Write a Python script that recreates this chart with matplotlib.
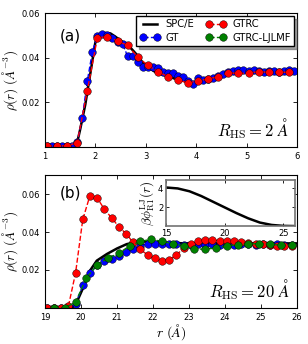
import matplotlib
matplotlib.use('Agg')
import matplotlib.pyplot as plt
import numpy as np

plt.rcParams['mathtext.fontset'] = 'cm'
plt.rcParams['font.family'] = 'DejaVu Sans'

# ---- panel (a): R_HS = 2 A ----
spce_a_x = [1.0, 1.6, 1.65, 1.7, 1.8, 1.9, 2.0, 2.1, 2.2, 2.3, 2.4, 2.5, 2.6, 2.7, 2.8, 2.9,
            3.0, 3.2, 3.4, 3.6, 3.8, 3.9, 4.0, 4.2, 4.4, 4.6, 4.8, 5.0, 5.5, 6.0]
spce_a_y = [0.0, 0.0, 0.003, 0.008, 0.019, 0.033, 0.047, 0.050, 0.0512, 0.051, 0.0495, 0.0478,
            0.0462, 0.0445, 0.042, 0.039, 0.0365, 0.0335, 0.032, 0.0305, 0.0295, 0.029, 0.0292,
            0.0302, 0.0315, 0.0328, 0.0337, 0.034, 0.034, 0.034]

gt_a_x = [1.04, 1.14, 1.24, 1.34, 1.44, 1.54, 1.64, 1.74, 1.84, 1.94, 2.04, 2.14, 2.24, 2.34,
          2.44, 2.54, 2.64, 2.74, 2.84, 2.94, 3.04, 3.14, 3.24, 3.34, 3.44, 3.54, 3.64, 3.74,
          3.84, 3.94, 4.04, 4.14, 4.24, 4.34, 4.44, 4.54, 4.64, 4.74, 4.84, 4.94, 5.04, 5.14,
          5.24, 5.34, 5.44, 5.54, 5.64, 5.74, 5.84, 5.94]
gt_a_y = [0.0005, 0.0005, 0.0005, 0.0005, 0.0005, 0.0005, 0.002, 0.013, 0.0296, 0.0427, 0.050,
          0.0508, 0.0504, 0.049, 0.047, 0.0464, 0.0407, 0.041, 0.038, 0.036, 0.036, 0.036,
          0.0356, 0.0338, 0.0333, 0.0333, 0.0318, 0.0313, 0.0298, 0.0283, 0.0308, 0.030,
          0.0305, 0.031, 0.0318, 0.0327, 0.0338, 0.034, 0.0345, 0.0345, 0.034, 0.0345, 0.034,
          0.0338, 0.0342, 0.034, 0.0338, 0.0342, 0.0345, 0.034]

gtrc_a_x = [1.04, 1.24, 1.44, 1.64, 1.84, 2.04, 2.24, 2.44, 2.64, 2.84, 3.04, 3.24, 3.44, 3.64,
            3.84, 4.04, 4.24, 4.44, 4.64, 4.84, 5.04, 5.24, 5.44, 5.64, 5.84]
gtrc_a_y = [0.0005, 0.0005, 0.0005, 0.0019, 0.0253, 0.049, 0.0496, 0.0476, 0.0456, 0.0404,
            0.0367, 0.0338, 0.0316, 0.0301, 0.0286, 0.0298, 0.0305, 0.0316, 0.0333, 0.033,
            0.0332, 0.0338, 0.0335, 0.0336, 0.0335]

# ---- panel (b): R_HS = 20 A ----
spce_b_x = [19.0, 19.75, 19.85, 19.93, 20.07, 20.25, 20.44, 20.72, 21.0, 21.27, 21.55, 21.8,
            22.0, 22.5, 23.0, 24.0, 25.0, 26.0]
spce_b_y = [0.0, 0.0, 0.002, 0.005, 0.011, 0.0196, 0.0249, 0.0284, 0.0313, 0.0336, 0.0348,
            0.035, 0.0348, 0.0342, 0.034, 0.034, 0.034, 0.034]

gt_b_x = [19.05, 19.25, 19.45, 19.65, 19.85, 20.05, 20.25, 20.45, 20.65, 20.85, 21.05, 21.25,
          21.45, 21.65, 21.85, 22.05, 22.25, 22.45, 22.65, 22.85, 23.05, 23.25, 23.45, 23.65,
          23.85, 24.05, 24.25, 24.45, 24.65, 24.85, 25.05, 25.25, 25.45, 25.65, 25.85]
gt_b_y = [0.0, 0.0, 0.0, 0.0, 0.002, 0.0118, 0.0182, 0.0225, 0.0245, 0.0258, 0.0275, 0.0293,
          0.031, 0.0328, 0.0338, 0.0338, 0.0337, 0.0335, 0.0335, 0.0334, 0.0333, 0.0335,
          0.0334, 0.0335, 0.0334, 0.0335, 0.0334, 0.0335, 0.0335, 0.0334, 0.0335, 0.0334,
          0.0335, 0.0334, 0.0334]

gtrc_b_x = gt_b_x
gtrc_b_y = [0.0, 0.0, 0.0, 0.0008, 0.0184, 0.0466, 0.0592, 0.058, 0.052, 0.0475, 0.0428,
            0.0392, 0.0345, 0.031, 0.0278, 0.0261, 0.0249, 0.0254, 0.0278, 0.0315, 0.0336,
            0.035, 0.0358, 0.0358, 0.0355, 0.0352, 0.035, 0.0345, 0.034, 0.0338, 0.0335,
            0.033, 0.0328, 0.0328, 0.0328]

ljlmf_b_x = [19.25, 19.55, 19.85, 20.15, 20.45, 20.75, 21.05, 21.35, 21.65, 21.95, 22.25,
             22.55, 22.85, 23.15, 23.45, 23.75, 24.05, 24.35, 24.65, 24.95, 25.25, 25.55, 25.85]
ljlmf_b_y = [0.0, 0.0, 0.003, 0.0158, 0.0226, 0.0263, 0.0287, 0.0327, 0.035, 0.0362, 0.035,
             0.0339, 0.0327, 0.031, 0.031, 0.0315, 0.0327, 0.0332, 0.0336, 0.0339, 0.0336,
             0.033, 0.033]

# ---- inset: LJ potential ----
pot_x = [15, 16, 17, 18, 19, 20, 21, 22, 23, 24, 25, 26]
pot_y = [4.1, 4.0, 3.7, 3.2, 2.6, 2.0, 1.4, 0.85, 0.4, 0.15, 0.05, 0.03]

ms = 5.5
mew = 0.3

fig = plt.figure(figsize=(3.08, 3.44), dpi=100)
ax1 = fig.add_axes([0.146, 0.573, 0.818, 0.388])
ax2 = fig.add_axes([0.146, 0.105, 0.818, 0.386])
axin = fig.add_axes([0.539, 0.342, 0.419, 0.135])


def style(ax):
    ax.tick_params(direction='in', top=True, right=True, labelsize=6, length=3, width=0.6)
    for s in ax.spines.values():
        s.set_linewidth(0.8)


# panel (a)
ax1.plot(spce_a_x, spce_a_y, '-', color='k', lw=1.8, label='SPC/E')
ax1.plot(gt_a_x, gt_a_y, '--o', color='b', lw=1, ms=ms, mec='k', mew=mew, label='GT')
ax1.plot(gtrc_a_x, gtrc_a_y, '--o', color='r', lw=1, ms=ms, mec='k', mew=mew, label='GTRC')
ax1.plot([], [], '--o', color='g', lw=1, ms=ms, mec='k', mew=mew, label='GTRC-LJLMF')
ax1.set_xlim(1, 6)
ax1.set_ylim(0, 0.06)
ax1.set_yticks([0.02, 0.04, 0.06])
ax1.set_yticklabels(['0.02', '0.04', '0.06'])
ax1.set_xticks([1, 2, 3, 4, 5, 6])
ax1.set_ylabel(r'$\rho(r)\ (\AA^{-3})$', fontsize=9.5, labelpad=1)
ax1.text(0.06, 0.8, '(a)', transform=ax1.transAxes, fontsize=11)
ax1.text(0.97, 0.08, r'$R_{\rm HS}=2\ \AA$', transform=ax1.transAxes, fontsize=12, ha='right')
ax1.legend(ncol=2, loc='upper right', fontsize=7.2, numpoints=2, frameon=True, shadow=True,
           fancybox=False, borderaxespad=0.25, handlelength=2.0, columnspacing=1.2,
           handletextpad=0.6, labelspacing=0.35, borderpad=0.35, framealpha=1,
           edgecolor='k')
style(ax1)

# panel (b)
ax2.plot(spce_b_x, spce_b_y, '-', color='k', lw=1.8)
ax2.plot(gt_b_x, gt_b_y, '--o', color='b', lw=1, ms=ms, mec='k', mew=mew)
ax2.plot(gtrc_b_x, gtrc_b_y, '--o', color='r', lw=1, ms=ms, mec='k', mew=mew)
ax2.plot(ljlmf_b_x, ljlmf_b_y, '--o', color='g', lw=1, ms=ms, mec='k', mew=mew)
ax2.set_xlim(19, 26)
ax2.set_ylim(0, 0.07)
ax2.set_yticks([0.02, 0.04, 0.06])
ax2.set_yticklabels(['0.02', '0.04', '0.06'])
ax2.set_xticks([19, 20, 21, 22, 23, 24, 25, 26])
ax2.set_ylabel(r'$\rho(r)\ (\AA^{-3})$', fontsize=9.5, labelpad=1)
ax2.set_xlabel(r'$r\ (\AA)$', fontsize=10, labelpad=0)
ax2.text(0.06, 0.83, '(b)', transform=ax2.transAxes, fontsize=11)
ax2.text(0.97, 0.08, r'$R_{\rm HS}=20\ \AA$', transform=ax2.transAxes, fontsize=12, ha='right')
style(ax2)

# inset
axin.plot(pot_x, pot_y, '-', color='k', lw=1.8)
axin.set_xlim(15, 26)
axin.set_ylim(0, 4.9)
axin.set_xticks([15, 20, 25])
axin.set_yticks([2, 4])
axin.set_ylabel(r'$\beta\phi_{\rm R1}^{\rm LJ}(r)$', fontsize=9.5, labelpad=1)
axin.tick_params(direction='in', top=True, right=True, labelsize=6, length=2.5, width=0.6, pad=2)
for s in axin.spines.values():
    s.set_linewidth(1.2)
    s.set_edgecolor('0.45')

fig.savefig('out.png', dpi=100)
